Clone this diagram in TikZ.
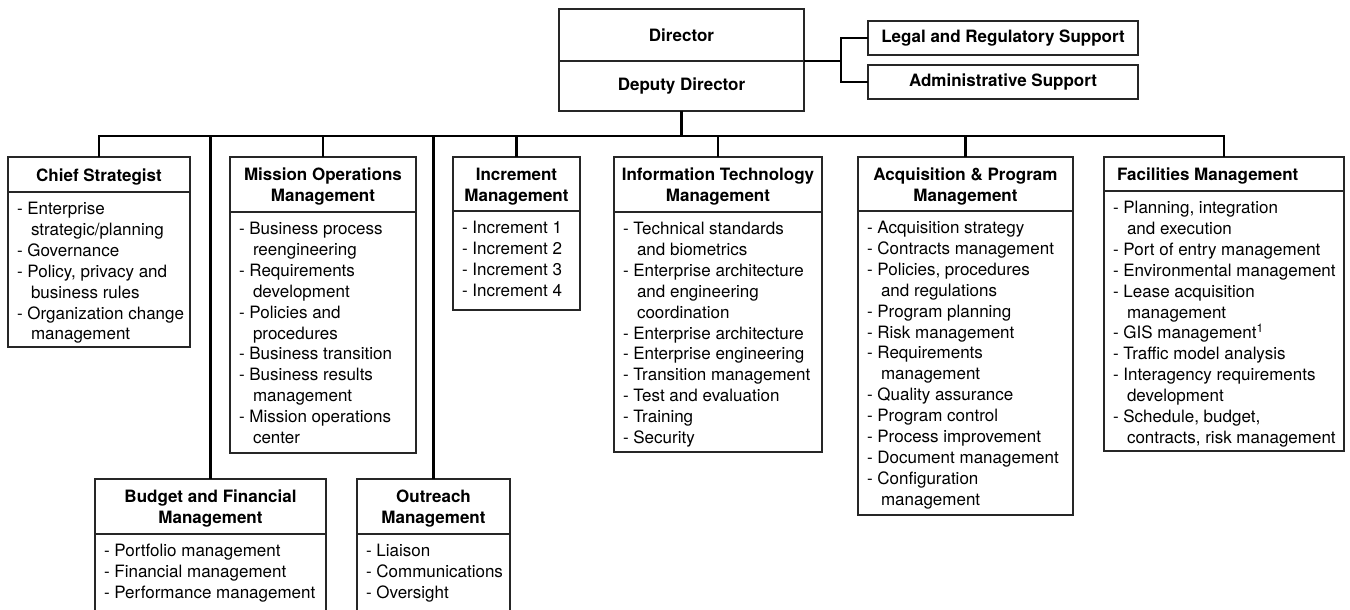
\documentclass[tikz,border=0pt]{standalone}
\usepackage{fontspec}
\setmainfont{TeX Gyre Heros}
\newcommand\Ind{\hspace*{14pt}}
\tikzset{
 every node/.style={inner sep=0pt, outer sep=0pt},
 boxline/.style={draw=black!85, line width=1.1pt},
 hbox/.style={boxline, font=\fontsize{17}{21}\selectfont\bfseries, align=center, anchor=north west},
 htext/.style={font=\fontsize{17}{21}\selectfont\bfseries, align=center},
 bbox/.style={boxline, anchor=north west},
 btext/.style={font=\fontsize{17}{20.9}\selectfont, align=left, anchor=north west},
 conn/.style={line width=2.6pt, black, line join=miter},
}
% #1 name, #2 x-left, #3 y-top, #4 y-divider, #5 x-right, #6 y-bottom, #7 header, #8 body
\newcommand\OrgBox[8]{%
 \node[bbox, minimum width={#5-#2}, minimum height={#4-#3}] (#1h) at (#2,#3) {};
 \node[htext] (#1l) at ([yshift=-2.5pt]#1h.center) {#7};
 \node[bbox, minimum width={#5-#2}, minimum height={#6-#4}] (#1b) at (#2,#4) {};
 \node[btext] (#1t) at ([xshift=9pt,yshift=-10pt]#1b.north west) {\rule{0pt}{12.5pt}#8};
}
\begin{document}
\begin{tikzpicture}[x=1pt,y=-1pt]
\useasboundingbox (0,0) rectangle (1350,610);
\clip (0,0) rectangle (1350,610);

% top
\node[hbox, minimum width=245, minimum height=52] (dira) at (559,9) {Director};
\node[hbox, minimum width=245, minimum height=50] (dirb) at (559,61) {Deputy Director};
\node[hbox, minimum width=270, minimum height=34] (legal) at (868,21) {Legal and Regulatory Support};
\node[hbox, minimum width=270, minimum height=34] (admin) at (868,65) {Administrative Support};
\coordinate (sj) at (841,0);
\coordinate (bus) at (0,136);

\OrgBox{chief}{8}{157}{192}{190}{347}{Chief Strategist}{%
- Enterprise\\ \Ind strategic/planning\\ - Governance\\ - Policy, privacy and\\ \Ind business rules\\ - Organization change\\ \Ind management}
\OrgBox{mission}{230}{157}{212}{416}{453}{Mission Operations\\ Management}{%
- Business process\\ \Ind reengineering\\ - Requirements\\ \Ind development\\ - Policies and\\ \Ind procedures\\ - Business transition\\ - Business results\\ \Ind management\\ - Mission operations\\ \Ind center}
\OrgBox{budget}{95}{479}{534}{326}{625}{Budget and Financial\\ Management}{%
- Portfolio management\\ - Financial management\\ - Performance management}
\OrgBox{outreach}{357}{479}{534}{510}{625}{Outreach\\ Management}{%
- Liaison\\ - Communications\\ - Oversight}
\OrgBox{incr}{453}{157}{211}{580}{310}{Increment\\ Management}{%
- Increment 1\\ - Increment 2\\ - Increment 3\\ - Increment 4}
\OrgBox{it}{614}{157}{212}{822}{452}{Information Technology\\ Management}{%
- Technical standards\\ \Ind and biometrics\\ - Enterprise architecture\\ \Ind and engineering\\ \Ind coordination\\ - Enterprise architecture\\ - Enterprise engineering\\ - Transition management\\ - Test and evaluation\\ - Training\\ - Security}
\OrgBox{acq}{858}{157}{211}{1073}{515}{Acquisition \& Program\\ Management}{%
- Acquisition strategy\\ - Contracts management\\ - Policies, procedures\\ \Ind and regulations\\ - Program planning\\ - Risk management\\ - Requirements\\ \Ind management\\ - Quality assurance\\ - Program control\\ - Process improvement\\ - Document management\\ - Configuration\\ \Ind management}
\OrgBox{facil}{1104}{157}{191}{1344}{451}{\makebox[214pt][l]{Facilities Management}}{%
- Planning, integration\\ \Ind and execution\\ - Port of entry management\\ - Environmental management\\ - Lease acquisition\\ \Ind management\\ - GIS management\textsuperscript{1}\\ - Traffic model analysis\\ - Interagency requirements\\ \Ind development\\ - Schedule, budget,\\ \Ind contracts, risk management}

% connectors
\draw[conn] (dira.south east) -- (dira.south east -| sj);
\draw[conn] (legal.west) -- (legal.west -| sj) -- (admin.west -| sj) -- (admin.west);
\draw[conn] (dirb.south) -- (dirb.south |- bus);
\draw[conn] (chiefh.north) -- (chiefh.north |- bus) -- (facilh.north |- bus) -- (facilh.north);
\foreach \n in {mission,budget,outreach,incr,it,acq}
  \draw[conn] (\n h.north |- bus) -- (\n h.north);
\end{tikzpicture}
\end{document}
